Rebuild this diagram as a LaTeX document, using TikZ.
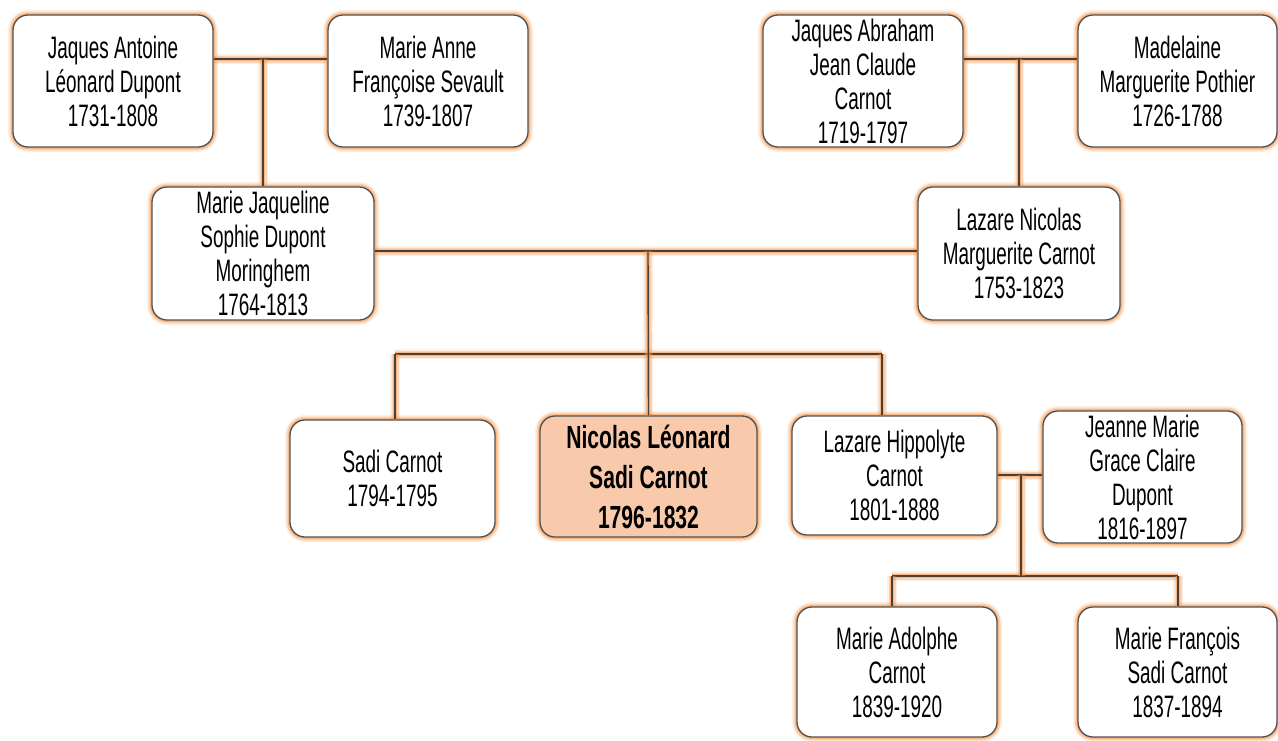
\documentclass[tikz,border=0pt]{standalone}
\usepackage{fontspec}
\setmainfont{Liberation Sans}[FakeStretch=0.61]
\newfontfamily\boldnarrow{Liberation Sans}[FakeStretch=0.66]
\definecolor{glow}{HTML}{F5954A}
\definecolor{linec}{HTML}{4A4038}
\definecolor{boxline}{HTML}{505050}
\definecolor{peach}{HTML}{F8CAAB}
\tikzset{
  glowpath/.style={
    preaction={draw=glow, line width=10pt, opacity=0.15},
    preaction={draw=glow, line width=7pt, opacity=0.3},
    preaction={draw=glow, line width=4pt, opacity=0.45}},
  person/.style={draw=boxline, line width=1.3pt, fill=white, rounded corners=15pt,
    align=center, inner sep=0pt, glowpath,
    font=\fontsize{31}{34}\selectfont},
  me/.style={person, fill=peach, font=\boldnarrow\bfseries\fontsize{32}{40}\selectfont},
  conn/.style={draw=linec, line width=1.4pt, glowpath}
}
\begin{document}
\begin{tikzpicture}[x=1pt,y=-1pt]
\useasboundingbox (0,0) rectangle (1278,740);
% coordinates for connector junctions
\coordinate (m1) at (263,59);
\coordinate (m2) at (1019,59);
\coordinate (m3) at (648,251);
\coordinate (j3) at (648,354);
\coordinate (b1) at (395,354);
\coordinate (b2) at (882,354);
\coordinate (m4) at (1021,475);
\coordinate (j4) at (1021,576);
\coordinate (c1) at (892,576);
\coordinate (c2) at (1178,576);
% connectors (drawn first, under boxes)
\path[conn] (b1) -- (b2);
\path[conn] (c1) -- (c2);
% people
\node[person, minimum width=200pt, minimum height=132pt] (jad) at (113,81) {Jaques Antoine\\Léonard Dupont\\1731-1808};
\node[person, minimum width=200pt, minimum height=132pt] (mafs) at (428,81) {Marie Anne\\Françoise Sevault\\1739-1807};
\node[person, minimum width=200pt, minimum height=132pt] (jajc) at (863,81) {Jaques Abraham\\Jean Claude\\Carnot\\1719-1797};
\node[person, minimum width=199pt, minimum height=132pt] (mmp) at (1177.5,81) {Madelaine\\Marguerite Pothier\\1726-1788};
\node[person, minimum width=222pt, minimum height=133pt] (mjsd) at (263,253.5) {Marie Jaqueline\\Sophie Dupont\\Moringhem\\1764-1813};
\node[person, minimum width=202pt, minimum height=133pt] (lnmc) at (1019,253.5) {Lazare Nicolas\\Marguerite Carnot\\1753-1823};
\node[person, minimum width=205pt, minimum height=117pt] (sc) at (392.5,478.5) {Sadi Carnot\\1794-1795};
\node[me, minimum width=217pt, minimum height=121pt] (nlsc) at (648.5,476.5) {Nicolas Léonard\\Sadi Carnot\\1796-1832};
\node[person, minimum width=205pt, minimum height=119pt] (lhc) at (894.5,475.5) {Lazare Hippolyte\\Carnot\\1801-1888};
\node[person, minimum width=199pt, minimum height=132pt] (jmgc) at (1142.5,477) {Jeanne Marie\\Grace Claire\\Dupont\\1816-1897};
\node[person, minimum width=200pt, minimum height=130pt] (mac) at (897,672) {Marie Adolphe\\Carnot\\1839-1920};
\node[person, minimum width=199pt, minimum height=130pt] (mfsc) at (1177.5,672) {Marie François\\Sadi Carnot\\1837-1894};
% couple 1
\path[conn] (jad.east |- m1) -- (mafs.west |- m1);
\path[conn] (m1) -- (mjsd.north);
% couple 2
\path[conn] (jajc.east |- m2) -- (mmp.west |- m2);
\path[conn] (m2) -- (lnmc.north);
% couple 3
\path[conn] (mjsd.east |- m3) -- (lnmc.west |- m3);
\path[conn] (m3) -- (nlsc.north);
\path[conn] (b1) -- (sc.north -| b1);
\path[conn] (b2) -- (lhc.north -| b2);
% couple 4
\path[conn] (lhc.east |- m4) -- (jmgc.west |- m4);
\path[conn] (m4) -- (j4);
\path[conn] (c1) -- (mac.north -| c1);
\path[conn] (c2) -- (mfsc.north -| c2);
\end{tikzpicture}
\end{document}
